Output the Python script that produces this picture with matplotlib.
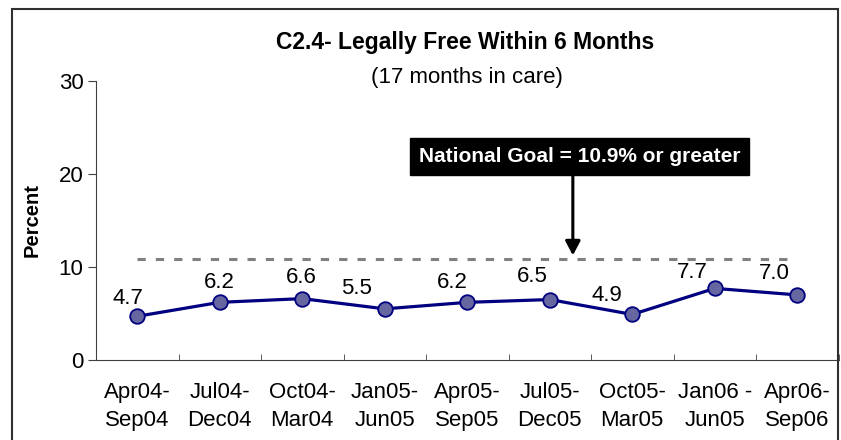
import matplotlib
matplotlib.use("Agg")
import matplotlib.pyplot as plt
from matplotlib.patches import Rectangle

plt.rcParams['font.family'] = ['Liberation Sans', 'DejaVu Sans']

# data
periods = ['Apr04-\nSep04', 'Jul04-\nDec04', 'Oct04-\nMar04', 'Jan05-\nJun05',
           'Apr05-\nSep05', 'Jul05-\nDec05', 'Oct05-\nMar05', 'Jan06 -\nJun05',
           'Apr06-\nSep06']
percent = [4.7, 6.2, 6.6, 5.5, 6.2, 6.5, 4.9, 7.7, 7.0]
goal = 10.9
yticks = [0, 10, 20, 30]

x = list(range(len(periods)))

fig = plt.figure(figsize=(8.41, 4.40), dpi=100)
ax = fig.add_axes([96 / 841, 1 - 360 / 440, 742.5 / 841, 279 / 440])

# outer frame of the chart
fig.patches.append(Rectangle((12 / 841, -0.02), 826 / 841, 0.9995 - 9 / 440 + 0.02,
                             transform=fig.transFigure, fill=False,
                             edgecolor='#303030', linewidth=1.5, clip_on=False))

# goal line
ax.plot([x[0], x[-1]], [goal, goal], color='#808080', linewidth=2.2,
        linestyle=(0, (2.7, 3.3)), zorder=2)

# series
ax.plot(x, percent, color='#000080', linewidth=2.3, marker='o', markersize=10.5,
        markerfacecolor='#6666A0', markeredgecolor='#000080', markeredgewidth=1.3,
        zorder=3)

# value labels (offsets in pixels, as placed in the original)
label_dx = [-9, 0, -1, -28, -15, -17, -25, -22, -23]
label_dy = [18, 20, 21, 20, 20, 23, 19, 16, 21]
for xi, v, dx, dy in zip(x, percent, label_dx, label_dy):
    ax.annotate(f'{v:.1f}', (xi, v), xytext=(dx * 0.72, dy * 0.72),
                textcoords='offset points', ha='center', va='center', fontsize=16)

# goal callout with arrow
ax.annotate('', xy=(5.28, 11.25), xytext=(5.28, 19.9),
            arrowprops=dict(arrowstyle='-|>,head_width=0.45,head_length=0.85',
                            color='black', linewidth=2.2, shrinkA=0, shrinkB=0))
ax.text(5.36, 21.9, 'National Goal = 10.9% or greater', ha='center', va='center',
        fontsize=15, fontweight='bold', color='white',
        bbox=dict(boxstyle='square,pad=0.42', facecolor='black', edgecolor='black'))

ax.set_xlim(-0.5, len(periods) - 0.5)
ax.set_ylim(0, 30)
ax.set_yticks(yticks)
ax.set_xticks(x)
ax.set_xticklabels(periods, fontsize=16, linespacing=1.45)
ax.set_xticks([i - 0.5 for i in range(len(periods) + 1)], minor=True)
ax.tick_params(axis='x', which='major', length=0, pad=16)
ax.tick_params(axis='x', which='minor', direction='in', length=4, color='#404040')
ax.tick_params(axis='y', direction='out', length=6, labelsize=16, color='#404040', pad=3)

for side in ['top', 'right']:
    ax.spines[side].set_visible(False)
ax.spines['left'].set_color('#404040')
ax.spines['bottom'].set_color('#404040')
ax.spines['bottom'].set_bounds(-0.5, len(periods) - 0.5)

ax.set_ylabel('Percent', fontsize=14.5, fontweight='bold', labelpad=12)

fig.text(465 / 841, 1 - 42 / 440, 'C2.4- Legally Free Within 6 Months',
         ha='center', va='center', fontsize=16.5, fontweight='bold')
fig.text(467 / 841, 1 - 77 / 440, '(17 months in care)',
         ha='center', va='center', fontsize=16)

fig.savefig('out.png', dpi=100)
